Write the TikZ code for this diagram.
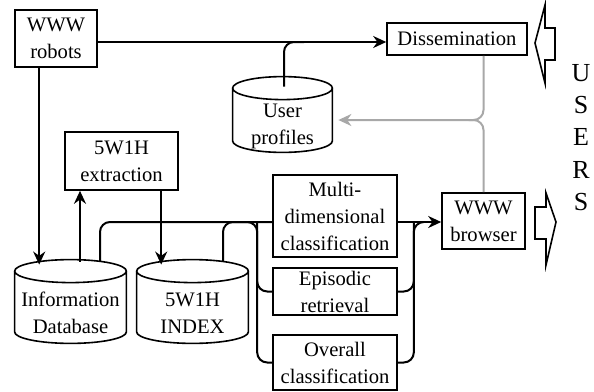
\documentclass[tikz,border=0pt]{standalone}
\usepackage{fontspec}
\setmainfont{Liberation Serif}
\usetikzlibrary{calc}
\usetikzlibrary{arrows.meta}
\definecolor{MyGrey}{rgb}{0.66,0.66,0.66}
\tikzset{
  box/.style={draw, line width=0.8pt, inner sep=0pt, align=center,
    font=\fontsize{10.3}{13.5}\selectfont},
  drum/.style={inner sep=0pt, align=center, font=\fontsize{10.3}{13.5}\selectfont},
  link/.style={line width=1pt, rounded corners=5pt},
  tip/.style={-{Stealth[length=6.5pt,width=6pt]}},
  faint/.style={draw=MyGrey, line width=1pt, rounded corners=5pt},
}
% outline of a disk store round a drum node (node spans from the top face down)
\newcommand{\drumoutline}[1]{%
  \draw[line width=0.8pt] let \p1=($(#1.east)-(#1.west)$) in
    ($(#1.north)+(0,-11.5)$) ellipse [x radius=0.5*\x1, y radius=5.75pt]
    ($(#1.north west)+(0,-11.5)$) -- ($(#1.south west)+(0,-11.5)$)
    arc [start angle=180, end angle=360, x radius=0.5*\x1, y radius=5.75pt]
    -- ($(#1.north east)+(0,-11.5)$);}

\begin{document}
\begin{tikzpicture}[x=0.5pt, y=-0.5pt]
        \useasboundingbox (0,0) rectangle (594,391);
        % boxes
        \node[box, minimum width=41pt, minimum height=28.5pt] (robots) at (56,38.5) {WWW\\robots};
        \node[box, minimum width=70pt, minimum height=16pt] (dissem) at (457,39) {Dissemination};
        \node[drum, minimum width=49.5pt, minimum height=26pt] (profiles) at (282.5,126) {User\\profiles};
        \node[box, minimum width=56.5pt, minimum height=29pt] (extract) at (121.5,161) {5W1H\\extraction};
        \node[drum, minimum width=55.5pt, minimum height=30pt] (infodb) at (70.5,313) {Information\\Database};
        \node[drum, minimum width=55.5pt, minimum height=30pt] (index) at (192.5,313) {5W1H\\INDEX};
        \node[box, minimum width=62pt, minimum height=41pt] (multi) at (335,216) {Multi-\\dimensional\\classification};
        \node[box, minimum width=62pt, minimum height=23.5pt] (episodic) at (335,291.5) {Episodic\\retrieval};
        \node[box, minimum width=62pt, minimum height=27.5pt] (overall) at (335,362.5) {Overall\\classification};
        \node[box, minimum width=41.5pt, minimum height=28pt] (browser) at (483.5,221) {WWW\\browser};
        \node[align=center, font=\fontsize{13}{16.1}\selectfont] (users) at (581,137.5) {U\\S\\E\\R\\S};
        \drumoutline{profiles}
        \drumoutline{infodb}
        \drumoutline{index}

        % robots and profiles to dissemination
        \coordinate (feed) at ($(robots.east)+(0,3.5)$);
        \draw[link, tip] (feed) -- (feed -| dissem.west);
        \coordinate (pf) at ($(profiles.north)+(1.5,-13)$);
        \draw[link] (pf) |- ($(feed -| pf)+(20,0)$);

        % database side
        \coordinate (rb) at ($(robots.south west)+(25,0)$);
        \draw[link, tip] (rb) -- ($(rb |- infodb.north)+(0,-18)$);
        \coordinate (up) at ($(infodb.north)+(9.5,-21)$);
        \draw[link, tip] (up) -- (up |- extract.south);
        \coordinate (dn) at ($(extract.south west)+(97,0)$);
        \draw[link, tip] (dn) -- ($(dn |- index.north)+(0,-18)$);

        % bus into the three classifiers
        \coordinate (bus) at ($(multi.west)+(0,6)$);
        \coordinate (lb) at ($(multi.west)+(-15,6)$);
        \coordinate (dbout) at ($(infodb.north)+(29.5,-21)$);
        \coordinate (ixout) at ($(index.north)+(30.5,-21)$);
        \draw[link] (dbout) |- (bus);
        \draw[link] (ixout) |- (lb) |- (overall.west);
        \draw[link] (lb) |- (episodic.west);

        % out to the browser
        \coordinate (rb2) at ($(multi.east)+(16,6)$);
        \draw[link, tip] (multi.east |- bus) -- (bus -| browser.west);
        \draw[link] (overall.east) -| (rb2) -- ($(rb2)+(8,0)$);
        \draw[link] (episodic.east) -| (rb2);

        % feedback to user profiles
        \coordinate (gj) at ($(browser.north |- profiles.center)+(0,-6)$);
        \draw[faint, tip] (dissem.south -| gj) -- (gj) -- ($(gj -| profiles.east)+(6,0)$);
        \draw[faint] (browser.north) -- (gj) -- ($(gj)+(-15,0)$);

        % users arrows
        \draw[line width=0.8pt] (535,43) -- (545,5) -- (545,28) -- (555,28) -- (555,60) -- (545,60) -- (545,83) -- cycle;
        \draw[line width=0.8pt] (535,207) -- (546,207) -- (546,193) -- (556,222) -- (546,265) -- (546,239) -- (535,239) -- cycle;
\end{tikzpicture}
\end{document}
